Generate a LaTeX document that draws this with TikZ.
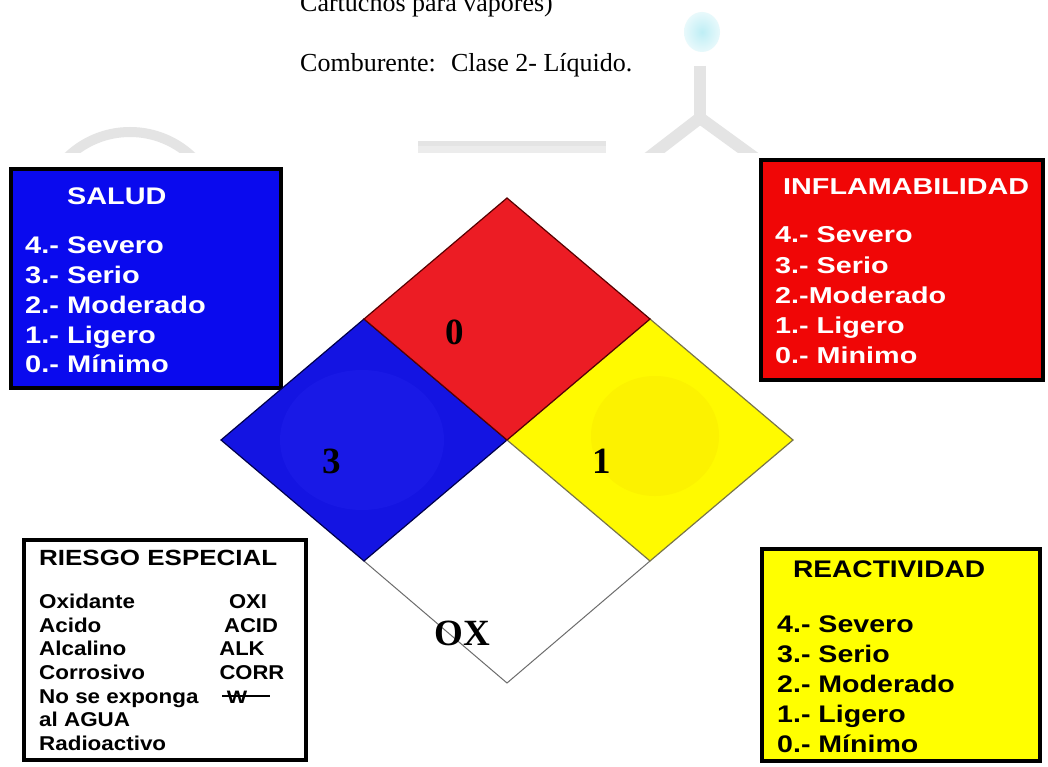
\documentclass[tikz,border=0pt]{standalone}
\usepackage{fontspec}
\setmainfont{Liberation Serif}
\newfontfamily\arialf{Liberation Sans}
\newcommand{\sx}[2]{\scalebox{#1}[1]{#2}}
\definecolor{saludblue}{RGB}{10,10,238}
\definecolor{inflred}{RGB}{240,6,6}
\definecolor{reacyel}{RGB}{255,255,0}
\definecolor{dblue}{RGB}{20,20,226}
\definecolor{dbluehi}{RGB}{25,25,230}
\definecolor{dred}{RGB}{236,28,36}
\definecolor{dyel}{RGB}{255,250,0}
\definecolor{dyello}{RGB}{252,242,0}
\definecolor{wmgray}{RGB}{228,228,228}
\definecolor{wmcyan}{RGB}{190,238,245}
\begin{document}
\begin{tikzpicture}[x=1pt,y=-1pt,
  panel/.style={draw=black, line width=4.5pt},
  lbl/.style={anchor=base west, inner sep=0pt},
  wtitle/.style={lbl, text=white, font=\arialf\bfseries\fontsize{24}{24}\selectfont},
  witem/.style={lbl, text=white, font=\arialf\bfseries\fontsize{24}{24}\selectfont},
  rtitle/.style={lbl, text=white, font=\arialf\bfseries\fontsize{23}{23}\selectfont},
  ritem/.style={lbl, text=white, font=\arialf\bfseries\fontsize{23}{23}\selectfont},
  ytitle/.style={lbl, text=black, font=\arialf\bfseries\fontsize{24}{24}\selectfont},
  yitem/.style={lbl, text=black, font=\arialf\bfseries\fontsize{24}{24}\selectfont},
  stitle/.style={lbl, text=black, font=\arialf\bfseries\fontsize{22}{22}\selectfont},
  sitem/.style={lbl, text=black, font=\arialf\bfseries\fontsize{20}{20}\selectfont},
  scode/.style={anchor=base, inner sep=0pt, text=black, font=\arialf\bfseries\fontsize{20}{20}\selectfont},
  bignum/.style={anchor=base, inner sep=0pt, font=\bfseries\fontsize{37}{37}\selectfont},
  body/.style={anchor=base west, inner sep=0pt, font=\fontsize{26}{30}\selectfont},
  quad/.style={line width=1.2pt, line join=miter},
  wmark/.style={draw=wmgray, line width=12pt}
]
\clip (0,0) rectangle (1048,767);
\fill[white] (0,0) rectangle (1048,767);

% background watermark (above the pasted picture)
\begin{scope}
  \clip (0,0) rectangle (1048,153);
  \draw[wmark, line width=10pt] (130,222) circle [radius=90];
  \fill[wmgray!70!white] (418,141) rectangle (606,160);
  \fill[wmgray] (418,141) rectangle (606,146);
  \draw[wmark] (700,66) -- (700,118);
  \draw[wmark] (700,118) -- (648,158);
  \draw[wmark] (700,118) -- (755,158);
  \shade[inner color=wmcyan, outer color=wmcyan!35!white] (702,32) ellipse [x radius=18, y radius=20];
\end{scope}

% body text
\node[body] (cart) at (300,12) {Cartuchos para vapores)};
\node[body] (comb) at (300,72) {Comburente:~ Clase 2- Líquido.};

% SALUD panel
\draw[panel, fill=saludblue] (11,169) rectangle (281,388);
\node[wtitle] (saludT) at (67,205) {\sx{1.2}{SALUD}};
\node[witem] (s4) at (25,253) {\sx{1.21}{4.- Severo}};
\node[witem] (s3) at (25,283) {\sx{1.21}{3.- Serio}};
\node[witem] (s2) at (25,313) {\sx{1.21}{2.- Moderado}};
\node[witem] (s1) at (25,343) {\sx{1.21}{1.- Ligero}};
\node[witem] (s0) at (25,372) {\sx{1.21}{0.- Mínimo}};

% INFLAMABILIDAD panel
\draw[panel, fill=inflred] (761,160) rectangle (1043,380);
\node[rtitle] (inflT) at (783,195) {\sx{1.25}{INFLAMABILIDAD}};
\node[ritem] (i4) at (775,243) {\sx{1.25}{4.- Severo}};
\node[ritem] (i3) at (775,273) {\sx{1.25}{3.- Serio}};
\node[ritem] (i2) at (775,303) {\sx{1.25}{2.-Moderado}};
\node[ritem] (i1) at (775,333) {\sx{1.25}{1.- Ligero}};
\node[ritem] (i0) at (775,363) {\sx{1.25}{0.- Minimo}};

% RIESGO ESPECIAL panel
\draw[panel, fill=white] (24,540) rectangle (306,760);
\node[stitle] (rieT) at (39,565) {\sx{1.18}{RIESGO ESPECIAL}};
\node[sitem] (r1) at (39,608) {\sx{1.12}{Oxidante}};
\node[sitem] (r2) at (39,632) {\sx{1.12}{Acido}};
\node[sitem] (r3) at (39,655) {\sx{1.12}{Alcalino}};
\node[sitem] (r4) at (39,679) {\sx{1.12}{Corrosivo}};
\node[sitem] (r5) at (39,703) {\sx{1.12}{No se exponga}};
\node[sitem] (r6) at (39,726) {\sx{1.12}{al AGUA}};
\node[sitem] (r7) at (39,750) {\sx{1.12}{Radioactivo}};
\node[scode] (c1) at (248,608) {\sx{1.1}{OXI}};
\node[scode] (c2) at (251,632) {\sx{1.1}{ACID}};
\node[scode] (c3) at (242,655) {\sx{1.1}{ALK}};
\node[scode] (c4) at (252,679) {\sx{1.1}{CORR}};
\node[anchor=base, inner sep=0pt, font=\arialf\bfseries\fontsize{18}{18}\selectfont] (wsym) at (237,703) {\sx{1.2}{W}};
\coordinate (wl) at (222,696);
\coordinate (wr) at (270,696);
\draw[line width=1.8pt] (wl) -- (wr);

% REACTIVIDAD panel
\draw[panel, fill=reacyel] (762,549) rectangle (1040,761);
\node[ytitle] (reaT) at (793,577) {\sx{1.17}{REACTIVIDAD}};
\node[yitem] (y4) at (777,632) {\sx{1.19}{4.- Severo}};
\node[yitem] (y3) at (777,662) {\sx{1.19}{3.- Serio}};
\node[yitem] (y2) at (777,692) {\sx{1.19}{2.- Moderado}};
\node[yitem] (y1) at (777,722) {\sx{1.19}{1.- Ligero}};
\node[yitem] (y0) at (777,752) {\sx{1.19}{0.- Mínimo}};

% NFPA diamond
\coordinate (T) at (507,198);
\coordinate (B) at (507,683);
\coordinate (L) at (221,440);
\coordinate (R) at (793,440);
\coordinate (C) at (507,440);
\coordinate (TL) at (364,319);
\coordinate (TR) at (650,319);
\coordinate (BL) at (364,561);
\coordinate (BR) at (650,561);

\fill[white] (C) -- (BR) -- (B) -- (BL) -- cycle;
\draw[quad, draw=gray!85!black, line width=1pt] (BL) -- (B) -- (BR);
\fill[dblue] (TL) -- (C) -- (BL) -- (L) -- cycle;
\begin{scope}
  \clip (TL) -- (C) -- (BL) -- (L) -- cycle;
  \fill[dbluehi] (362,440) ellipse [x radius=82, y radius=70];
\end{scope}
\draw[quad, draw=black!70!blue] (TL) -- (C) -- (BL) -- (L) -- cycle;
\fill[dyel] (TR) -- (R) -- (BR) -- (C) -- cycle;
\begin{scope}
  \clip (TR) -- (R) -- (BR) -- (C) -- cycle;
  \fill[dyello] (655,436) ellipse [x radius=64, y radius=60];
\end{scope}
\draw[quad, draw=black!60!yellow] (TR) -- (R) -- (BR) -- (C) -- cycle;
\filldraw[quad, fill=dred, draw=black!65!red] (T) -- (TR) -- (C) -- (TL) -- cycle;

\node[bignum] (nred) at (455,344) {0};
\node[bignum] (nblue) at (332,473) {3};
\node[bignum] (nyel) at (602,473) {1};
\node[bignum] (nwhite) at (462,645) {OX};
\end{tikzpicture}
\end{document}
